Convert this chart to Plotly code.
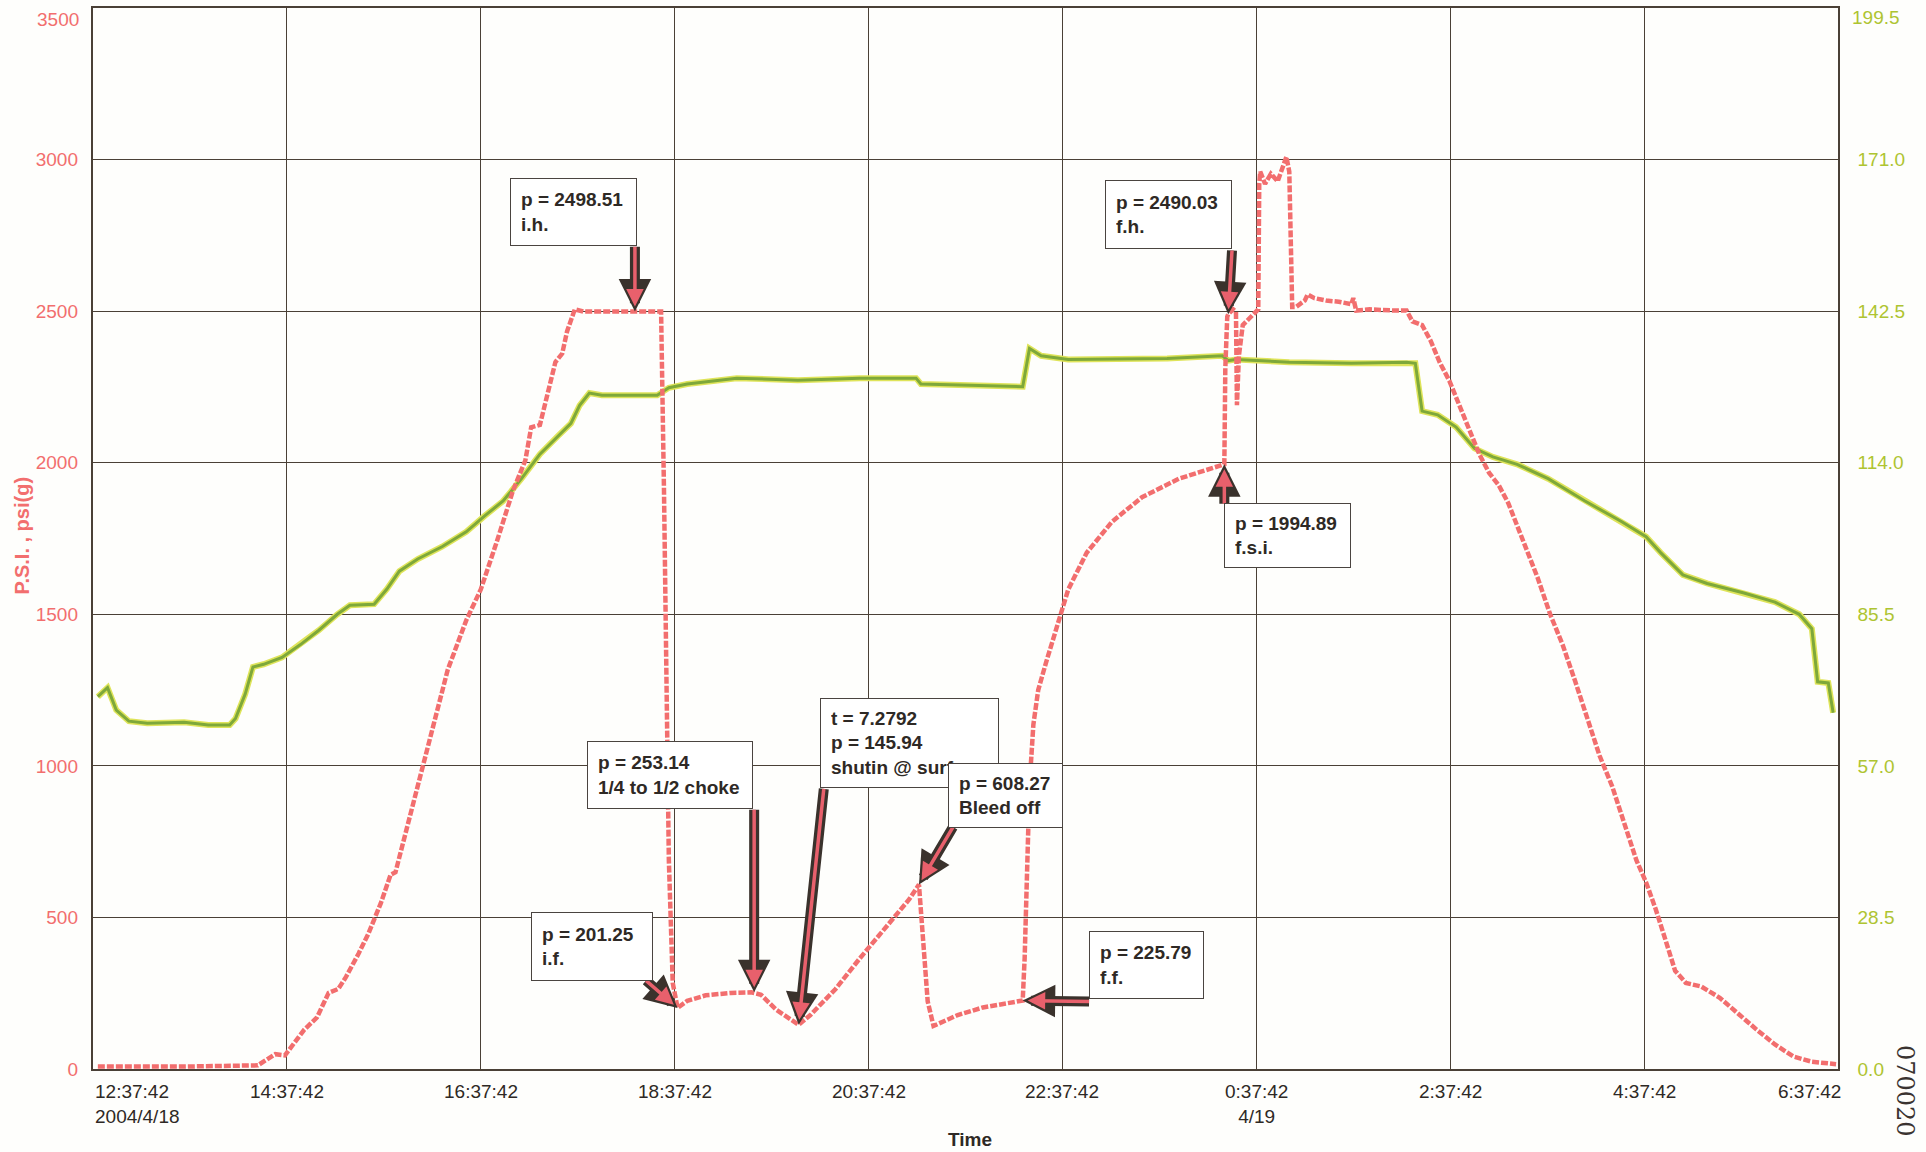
import plotly.graph_objects as go

# ---- time axis: hours elapsed since 2004/4/18 12:37:42 ----
tick_hours = [0, 2, 4, 6, 8, 10, 12, 14, 16, 18]
tick_labels = ["12:37:42<br>2004/4/18", "14:37:42", "16:37:42", "18:37:42", "20:37:42",
               "22:37:42", "0:37:42<br>4/19", "2:37:42", "4:37:42", "6:37:42"]

psi_ticks = [0, 500, 1000, 1500, 2000, 2500, 3000, 3500]
temp_ticks = [0.0, 28.5, 57.0, 85.5, 114.0, 142.5, 171.0, 199.5]
temp_tick_text = ["0.0", "28.5", "57.0", "85.5", "114.0", "142.5", "171.0", "199.5"]

# ---- pressure gauge, psi(g) ----
p_hours = [0.05, 0.94, 1.70, 1.80, 1.88, 1.98, 2.05, 2.18, 2.31, 2.43, 2.53, 2.61, 2.74, 2.84,
           2.97, 3.07, 3.12, 3.22, 3.41, 3.66, 3.85, 4.00, 4.17, 4.33, 4.46, 4.52, 4.61, 4.70,
           4.77, 4.84, 4.89, 4.97, 5.06, 5.86, 5.89, 5.94, 5.98, 6.03, 6.13, 6.32, 6.58, 6.79,
           6.89, 7.05, 7.21, 7.2792, 7.40, 7.66, 7.91, 8.16, 8.42, 8.52, 8.56, 8.61, 8.67, 8.73,
           8.92, 9.18, 9.43, 9.59, 9.61, 9.64, 9.66, 9.70, 9.75, 9.83, 9.94, 10.06, 10.25, 10.51,
           10.82, 11.20, 11.67, 11.68, 11.70, 11.71, 11.76, 11.79, 11.80, 11.82, 11.86, 11.94,
           12.02, 12.03, 12.04, 12.09, 12.15, 12.22, 12.28, 12.31, 12.34, 12.37, 12.41, 12.50,
           12.53, 12.60, 12.72, 12.85, 12.98, 13.00, 13.03, 13.17, 13.42, 13.55, 13.61, 13.71,
           13.80, 13.89, 13.99, 14.09, 14.20, 14.30, 14.40, 14.50, 14.60, 14.70, 14.80, 14.90,
           15.03, 15.16, 15.29, 15.41, 15.54, 15.67, 15.79, 15.92, 16.02, 16.12, 16.22, 16.32,
           16.43, 16.59, 16.78, 16.97, 17.16, 17.35, 17.54, 17.73, 17.98]
p_psi = [8, 8, 12, 32, 49, 45, 73, 130, 170, 251, 264, 304, 381, 446,
         548, 641, 649, 771, 1014, 1318, 1480, 1582, 1744, 1906, 2008, 2117, 2125, 2239,
         2332, 2360, 2433, 2506, 2498.51, 2498.51, 1906, 689, 284, 201.25, 225, 243, 251, 253.14,
         245, 195, 158, 145.94, 178, 264, 365, 458, 560, 608.27, 446, 223, 142, 150,
         178, 203, 219, 225.79, 365, 689, 933, 1136, 1250, 1340, 1460, 1582, 1703, 1805,
         1886, 1947, 1994.89, 2312, 2482, 2490.03, 2506, 2498, 2190, 2352, 2454, 2482,
         2506, 2920, 2960, 2920, 2953, 2928, 2981, 3009, 2960, 2514, 2514, 2535,
         2555, 2543, 2535, 2531, 2523, 2543, 2502, 2506, 2502, 2502, 2466, 2454,
         2401, 2332, 2271, 2190, 2109, 2028, 1967, 1926, 1866, 1784, 1703, 1622,
         1501, 1399, 1278, 1156, 1034, 933, 811, 689, 616, 527, 426, 324,
         284, 272, 235, 182, 130, 81, 41, 24, 16]

# ---- temperature, right scale ----
t_hours = [0.05, 0.15, 0.24, 0.37, 0.56, 0.94, 1.19, 1.41, 1.47, 1.57, 1.65, 1.76, 1.95, 2.14,
           2.33, 2.52, 2.65, 2.90, 3.03, 3.16, 3.35, 3.60, 3.85, 4.04, 4.23, 4.42, 4.61, 4.80,
           4.93, 5.02, 5.12, 5.25, 5.82, 5.94, 6.13, 6.64, 7.27, 7.91, 8.49, 8.54, 9.18, 9.59,
           9.66, 9.78, 10.06, 11.08, 11.65, 11.71, 11.79, 12.34, 12.98, 13.55, 13.64, 13.71,
           13.87, 14.06, 14.25, 14.44, 14.69, 15.01, 15.39, 15.77, 16.02, 16.17, 16.40, 16.65,
           17.03, 17.35, 17.60, 17.73, 17.79, 17.90, 17.95]
t_vals = [70.0, 71.7, 67.5, 65.4, 65.0, 65.2, 64.7, 64.7, 65.9, 70.5, 75.6, 76.1, 77.4, 79.8,
          82.5, 85.5, 87.2, 87.4, 90.2, 93.6, 95.9, 98.2, 101.0, 104.0, 106.8, 111.0, 115.6, 119.1,
          121.4, 124.8, 127.1, 126.7, 126.7, 128.1, 128.8, 129.9, 129.5, 129.9, 129.9, 128.8, 128.5, 128.3,
          135.5, 134.1, 133.4, 133.6, 134.1, 133.2, 133.4, 132.9, 132.7, 132.9, 132.7, 123.7,
          123.0, 120.7, 116.7, 115.1, 113.7, 111.0, 106.8, 102.9, 100.1, 97.1, 92.9, 91.3,
          89.5, 87.8, 85.5, 82.8, 72.8, 72.6, 67.0]

# ---- event call-outs: (box text, box left hr, box top psi, box w px, box h px,
#                        arrow tail hr, tail psi, point hr, point psi) ----
callouts = [
    ("p = 2498.51<br>i.h.", 4.30, 2940, 127, 68, 5.59, 2717, 5.59, 2498.51),
    ("p = 2490.03<br>f.h.", 10.44, 2932, 127, 69, 11.75, 2705, 11.71, 2490.03),
    ("p = 1994.89<br>f.s.i.", 11.67, 1866, 127, 65, 11.67, 1860, 11.67, 1994.89),
    ("p = 253.14<br>1/4 to 1/2 choke", 5.10, 1083, 166, 68, 6.82, 860, 6.82, 253.14),
    ("t = 7.2792<br>p = 145.94<br>shutin @ surface", 7.50, 1225, 179, 90, 7.54, 929, 7.2792, 145.94),
    ("p = 608.27<br>Bleed off", 8.82, 1010, 115, 65, 8.88, 803, 8.52, 608.27),
    ("p = 201.25<br>i.f.", 4.52, 519, 122, 69, 5.69, 296, 6.03, 201.25),
    ("p = 225.79<br>f.f.", 10.27, 454, 115, 68, 10.29, 223, 9.59, 225.79),
]

RED = "#f26e6e"
GREEN = "#7ea83a"
YGREEN = "#aec431"
GRID = "#4a4036"
INK = "#2e2925"
BASE_FONT = "Liberation Sans, Arial, sans-serif"

fig = go.Figure()

# temperature on the base (right-hand) axis, with a faint yellow halo
fig.add_trace(go.Scatter(x=t_hours, y=t_vals, yaxis="y", mode="lines",
                         line=dict(color="#dfe45a", width=6), hoverinfo="skip", showlegend=False))
fig.add_trace(go.Scatter(x=t_hours, y=t_vals, yaxis="y", mode="lines",
                         line=dict(color=GREEN, width=3), showlegend=False, name="Temp"))
# pressure on the overlaying (left-hand) axis so it sits on top
fig.add_trace(go.Scatter(x=p_hours, y=p_psi, yaxis="y2", mode="lines",
                         line=dict(color=RED, width=4.5, dash="7px,2px"), showlegend=False,
                         name="P.S.I."))

annotations = []

# x tick labels (first/last pinned to the frame edges)
for i, (h, lab) in enumerate(zip(tick_hours, tick_labels)):
    if i == 0:
        anchor, align, shift = "left", "left", 0
    elif i == len(tick_hours) - 1:
        anchor, align, shift = "right", "right", 5
    else:
        anchor, align, shift = "center", "center", 0
    annotations.append(dict(x=h, y=0, xref="x", yref="paper", text=lab, showarrow=False,
                            xanchor=anchor, yanchor="top", align=align, xshift=shift, yshift=-10,
                            font=dict(family=BASE_FONT, size=19, color=INK)))

# top-most y labels sit just inside the frame's top edge
annotations.append(dict(x=0, y=psi_ticks[-1], xref="paper", yref="y2", text=str(psi_ticks[-1]),
                        showarrow=False, xanchor="right", yanchor="top", xshift=-12, yshift=1,
                        font=dict(family=BASE_FONT, size=19, color=RED)))
annotations.append(dict(x=1, y=temp_ticks[-1], xref="paper", yref="y", text=temp_tick_text[-1],
                        showarrow=False, xanchor="left", yanchor="top", xshift=12, yshift=3,
                        font=dict(family=BASE_FONT, size=19, color=YGREEN)))

annotations.append(dict(x=9.05, y=0, xref="x", yref="paper", text="Time", showarrow=False,
                        xanchor="center", yanchor="middle", yshift=-70,
                        font=dict(family=BASE_FONT, size=19, color=INK, weight="bold")))
annotations.append(dict(x=0, y=0.502, xref="paper", yref="paper", text="P.S.I. , psi(g)",
                        showarrow=False, textangle=-90, xanchor="center", yanchor="middle",
                        xshift=-71, font=dict(family=BASE_FONT, size=20, color=RED, weight="bold")))

# arrows: dark outline underneath, pink core on top
for (_, _, _, _, _, tx, ty, px, py) in callouts:
    annotations.append(dict(x=px, y=py, xref="x", yref="y2", ax=tx, ay=ty, axref="x", ayref="y2",
                            text="", showarrow=True, arrowhead=2, arrowsize=0.65, arrowwidth=10,
                            arrowcolor="#3a322c", standoff=0))
    annotations.append(dict(x=px, y=py, xref="x", yref="y2", ax=tx, ay=ty, axref="x", ayref="y2",
                            text="", showarrow=True, arrowhead=2, arrowsize=1.0, arrowwidth=3.5,
                            arrowcolor="#e8606c", standoff=5))

# call-out boxes
for (txt, bx, by, w, hgt, *_rest) in callouts:
    annotations.append(dict(x=bx, y=by, xref="x", yref="y2", text=txt, showarrow=False,
                            xanchor="left", yanchor="top", align="left", valign="middle",
                            width=w - 22, height=hgt - 22, borderpad=10,
                            bgcolor="#ffffff", bordercolor="#4a4440", borderwidth=1,
                            font=dict(family=BASE_FONT, size=19, color=INK, weight="bold")))

# filing stamp at the page edge
annotations.append(dict(x=1, y=0, xref="paper", yref="paper", text="070020", showarrow=False,
                        textangle=90, xanchor="center", yanchor="top", xshift=67, yshift=26,
                        font=dict(family="DejaVu Serif, serif", size=24, color="#3a3330")))

fig.update_layout(
    width=1926, height=1152,
    margin=dict(l=93, r=88, t=8, b=83, autoexpand=False),
    paper_bgcolor="#fefefc", plot_bgcolor="#fefefc",
    xaxis=dict(range=[0, 18], tickmode="array", tickvals=tick_hours, showticklabels=False,
               showgrid=True, gridcolor=GRID, gridwidth=1.2, zeroline=False, automargin=False,
               showline=True, linecolor=GRID, linewidth=1.5, mirror=True, ticks=""),
    yaxis=dict(range=[0, 199.5], side="right", tickmode="array", tickvals=temp_ticks[:-1],
               ticktext=temp_tick_text[:-1], showgrid=True, gridcolor=GRID, gridwidth=1.2,
               zeroline=False, showline=True, linecolor=GRID, linewidth=1.5, mirror=True,
               ticks="", ticklabelstandoff=14, automargin=False,
               tickfont=dict(family=BASE_FONT, size=19, color=YGREEN)),
    yaxis2=dict(range=[0, 3500], overlaying="y", side="left", tickmode="array",
                tickvals=psi_ticks[:-1], showgrid=False, zeroline=False, showline=False,
                ticks="", ticklabelstandoff=14, automargin=False,
                tickfont=dict(family=BASE_FONT, size=19, color=RED)),
    annotations=annotations,
)

fig.write_html("out.html")
